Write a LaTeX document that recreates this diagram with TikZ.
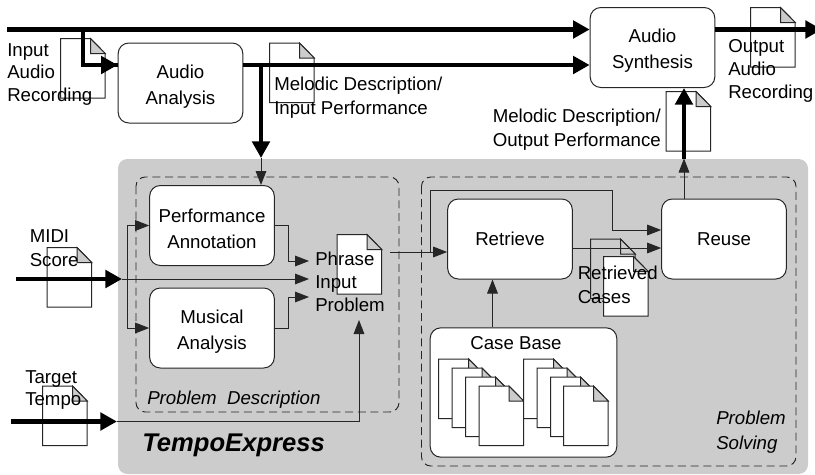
\documentclass[tikz,border=0pt]{standalone}
\usepackage{fontspec}
\setmainfont{Liberation Sans}
\usetikzlibrary{arrows.meta}
\definecolor{panelgray}{HTML}{CCCCCC}
\definecolor{foldgray}{HTML}{CCCCCC}
\newcommand{\lowerline}{\rule{0pt}{15.5pt}}
\tikzset{
  x=0.75pt,y=-0.75pt,
  txt/.style={font=\fontsize{14}{17.2}\selectfont,inner sep=0pt,align=left,text=black},
  wtxt/.style={font=\fontsize{14}{18.2}\selectfont,inner sep=0pt,align=left,text=black},
  itxt/.style={font=\fontsize{14}{18.4}\selectfont\itshape,inner sep=0pt,align=left},
  rbox/.style={draw=black!85,line width=0.75pt,fill=white,rounded corners=8pt,minimum width=93.5pt,minimum height=60pt,inner sep=0pt,align=center,font=\fontsize{14}{19.4}\selectfont},
  thin line/.style={draw=black!85,line width=0.7pt,-{Triangle[length=10.5pt,width=8pt]}},
  plain line/.style={draw=black!85,line width=0.7pt},
  thick arrow/.style={draw=black,line width=3.4pt,-{Triangle[length=12.5pt,width=13pt]}},
  heavy/.style={draw=black,line width=3.4pt},
  dashbox/.style={draw=black!85,line width=0.7pt,dash pattern=on 6pt off 3.5pt,rounded corners=7pt},
}
% \docicon{name}{x}{y}{fill}
\newcommand{\docicon}[4]{%
  \coordinate (#1) at (#2,#3);
  \filldraw[draw=black!85,line width=0.75pt,fill=#4] (#1) -- ++(30,0) -- ++(14.7,15) -- ++(0,44.5) -- ++(-44.7,0) -- cycle;
  \filldraw[draw=black!85,line width=0.75pt,fill=foldgray] (#1) ++(30,0) -- ++(14.7,15) -- ++(-14.7,0) -- cycle;
}
\begin{document}
\begin{tikzpicture}
\useasboundingbox (0,0) rectangle (815,475);
% panel
\fill[panelgray,rounded corners=7pt] (118,159) rectangle (808,474);
\draw[dashbox] (136,177) rectangle (399,412);
\draw[dashbox] (421.5,177) rectangle (796,466);
% documents
\docicon{d1}{60.5}{38.5}{white}
\docicon{d2}{269.5}{43}{white}
\docicon{d3}{750.5}{7.5}{white}
\docicon{d4}{666}{91.5}{white}
\docicon{dm}{47}{247.5}{white}
\docicon{dt}{42.5}{386}{white}
\docicon{dp}{337}{234.5}{white}
% boxes
\node[rbox] (analysis) at (180.5,83) {\lowerline Audio\\Analysis};
\node[rbox] (synth) at (652.5,47.5) {\lowerline Audio\\Synthesis};
\node[rbox] (perf) at (212,225.5) {\lowerline Performance\\Annotation};
\node[rbox] (music) at (212,328) {\lowerline Musical\\Analysis};
\node[rbox] (retrieve) at (510,239) {Retrieve};
\node[rbox] (reuse) at (724,239) {Reuse};
\node[rbox,minimum width=140pt,minimum height=97pt] (casebase) at (523.5,392.5) {};
% retrieved docs
\docicon{ra}{590.5}{239}{panelgray}
\docicon{rb}{603.5}{256.5}{white}
% case base documents
\docicon{c1}{438.7}{359}{white}
\docicon{c2}{452}{368}{white}
\docicon{c3}{465.5}{377}{white}
\docicon{c4}{479}{386}{white}
\docicon{c5}{523.5}{359}{white}
\docicon{c6}{537}{368}{white}
\docicon{c7}{550.5}{377}{white}
\docicon{c8}{563.5}{386}{white}
% free ends and junctions
\coordinate (inS) at (7,29.5);
\coordinate (inJ) at (83,29.5);
\coordinate (inK) at (83,65);
\coordinate (anaJ) at (261,65);
\coordinate (anaT) at (261,158);
\coordinate (midiS) at (16,279);
\coordinate (midiE) at (122,279);
\coordinate (midiJ) at (127,279);
\coordinate (phr1) at (309,261);
\coordinate (phr2) at (309,279);
\coordinate (phr3) at (309,297);
\coordinate (tempoS) at (11,421.5);
\coordinate (tempoE) at (117,421.5);
\coordinate (tempoC) at (359,421.5);
\coordinate (tempoT) at (359,320);
\coordinate (outE) at (822,29.5);
\coordinate (phrS) at (390,252);
\coordinate (rJ) at (430,252);
\coordinate (reuT) at (684,158.5);
% connectors
\draw[heavy] (inS) -- (inJ);
\draw[thick arrow] (inJ) -- (synth.west |- inS);
\draw[heavy,line join=miter] (inJ) -- (inK) -- (analysis.west |- inK);
\draw[thick arrow] (100,65) -- (analysis.west |- inK);
\draw[thick arrow] (analysis.east |- inK) -- (synth.west |- inK);
\draw[thick arrow] (anaJ) -- (anaT);
\draw[thin line] (anaT) -- (perf.north -| anaT);
\draw[thick arrow] (midiS) -- (midiE);
\draw[thin line] (midiE) -- (phr2);
\draw[thin line] (midiJ) |- (perf.west);
\draw[thin line] (midiJ) |- (music.west);
\draw[thin line] (perf.east) -- ++(14,0) |- (phr1);
\draw[thin line] (music.east) -- ++(14,0) |- (phr3);
\draw[thick arrow] (tempoS) -- (tempoE);
\draw[plain line] (tempoE) -- (tempoC);
\draw[thin line] (tempoC) -- (tempoT);
\draw[thin line] (phrS) -- (retrieve.west |- phrS);
\draw[thin line] (rJ) |- (612.5,190) |- (reuse.west |- 0,230);
\draw[thin line] (retrieve.east |- 0,248) -- (reuse.west |- 0,248);
\draw[thin line] (casebase.north -| 492.5,0) -- (retrieve.south -| 492.5,0);
\draw[thin line] (reuse.north -| reuT) -- (reuT);
\draw[thick arrow] (reuT) -- (synth.south -| reuT);
\draw[thick arrow] (synth.east |- outE) -- (outE);
% labels
\node[txt,anchor=west] (tin) at (7,74.5) {Input\\Audio\\Recording};
\node[wtxt,anchor=west] (tmi) at (274,98) {Melodic Description/\\Input Performance};
\node[wtxt,anchor=west] (tmo) at (492.5,129.5) {Melodic Description/\\Output Performance};
\node[txt,anchor=west] (tou) at (728,70.5) {Output\\Audio\\Recording};
\node[wtxt,anchor=west] (tmd) at (29.5,248) {MIDI\\Score};
\node[txt,anchor=west] (ttp) at (25,390) {Target\\Tempo};
\node[txt,anchor=west] (tph) at (315,282) {Phrase\\Input\\Problem};
\node[wtxt,anchor=west] (trc) at (577.5,284.5) {Retrieved\\Cases};
\node[txt,anchor=center] (tcb) at (516,343) {Case Base};
\node[itxt,anchor=west] (tpd) at (147,399.5) {Problem\ \ Description};
\node[itxt,anchor=west] (tps) at (716,432) {Problem\\Solving};
\node[anchor=west,inner sep=0pt,font=\fontsize{19.2}{22}\selectfont\bfseries\itshape] (tex) at (142,445.5) {TempoExpress};
\end{tikzpicture}
\end{document}
